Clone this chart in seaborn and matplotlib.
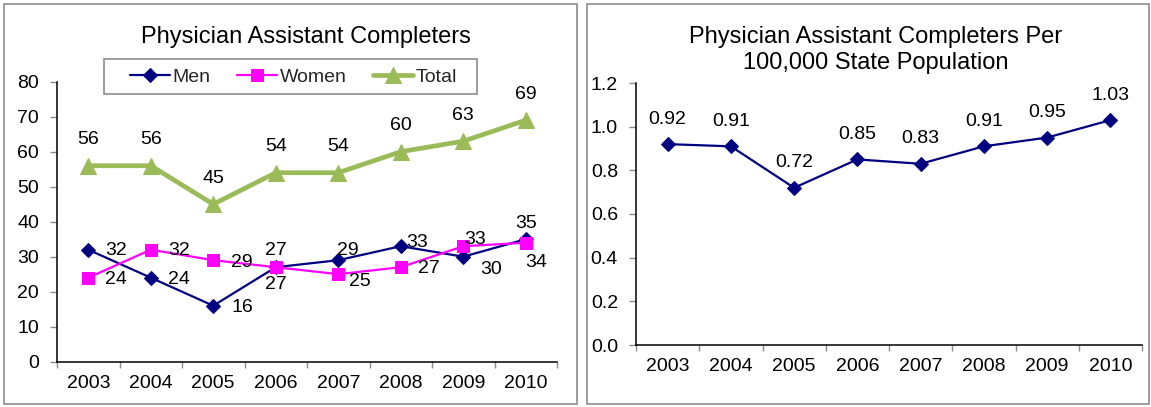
import numpy as np
import pandas as pd
import matplotlib
matplotlib.use("Agg")
import matplotlib.pyplot as plt
from matplotlib.patches import Rectangle
import seaborn as sns

# ---------------- data ----------------
years = ["2003", "2004", "2005", "2006", "2007", "2008", "2009", "2010"]
men = [32, 24, 16, 27, 29, 33, 30, 35]
women = [24, 32, 29, 27, 25, 27, 33, 34]
total = [56, 56, 45, 54, 54, 60, 63, 69]
per_100k = [0.92, 0.91, 0.72, 0.85, 0.83, 0.91, 0.95, 1.03]

left_title = "Physician Assistant Completers"
right_title = "Physician Assistant Completers Per\n100,000 State Population"

# label offsets in pixels (dx right, dy down) relative to the point
men_off = [(28, 1), (28, 2), (29, 2), (0, 17), (10, -10), (16, -4), (28, 13), (0, -16)]
women_off = [(28, 2), (28, 1), (29, 2), (0, -17), (22, 7), (28, 1), (12, -7), (10, 20)]
total_off = [(0, -26)] * 8
rate_off = [(0, -25)] * 8

sns.set_style("ticks")
plt.rcParams["font.family"] = ["Liberation Sans", "DejaVu Sans"]

W, H = 1151, 407
fig = plt.figure(figsize=(W / 100, H / 100), dpi=100)
fig.patch.set_facecolor("white")


def fx(px):
    return px / W


def fy(py):
    return 1 - py / H


# panel borders
for (x0, y0, x1, y1) in [(4, 4, 577, 404), (587, 4, 1149, 404)]:
    fig.patches.append(Rectangle((fx(x0), fy(y1)), fx(x1) - fx(x0), fy(y0) - fy(y1),
                                 transform=fig.transFigure, fill=False,
                                 edgecolor="#8c8c8c", linewidth=1.2))

axL = fig.add_axes([fx(57), fy(361.7), fx(557) - fx(57), fy(81.7) - fy(361.7)])
axR = fig.add_axes([fx(636), fy(345), fx(1142) - fx(636), fy(83) - fy(345)])

NAVY = "#000080"
MAG = "#FF00FF"
GREEN = "#9BBB59"

df = pd.DataFrame({"year": years, "Men": men, "Women": women, "Total": total,
                   "rate": per_100k})

sns.lineplot(data=df, x="year", y="Men", ax=axL, color=NAVY, linewidth=1.6,
             marker="D", markersize=7, markeredgecolor=NAVY, markerfacecolor=NAVY,
             label="Men", sort=False)
sns.lineplot(data=df, x="year", y="Women", ax=axL, color=MAG, linewidth=1.6,
             marker="s", markersize=8, markeredgecolor=MAG, markerfacecolor=MAG,
             label="Women", sort=False)
sns.lineplot(data=df, x="year", y="Total", ax=axL, color=GREEN, linewidth=3.4,
             marker="^", markersize=12, markeredgecolor=GREEN, markerfacecolor=GREEN,
             label="Total", sort=False)

sns.lineplot(data=df, x="year", y="rate", ax=axR, color=NAVY, linewidth=1.6,
             marker="D", markersize=7, markeredgecolor=NAVY, markerfacecolor=NAVY,
             sort=False, legend=False)

FS = 14


def annotate(ax, vals, offs, fmt):
    for i, (v, (dx, dy)) in enumerate(zip(vals, offs)):
        ax.annotate(fmt.format(v), xy=(i, v), xytext=(dx, -dy),
                    textcoords="offset pixels", ha="center", va="center",
                    fontsize=FS, color="black")


annotate(axL, men, men_off, "{:d}")
annotate(axL, women, women_off, "{:d}")
annotate(axL, total, total_off, "{:d}")
annotate(axR, per_100k, rate_off, "{:.2f}")

for ax, ylim, yt, fmt in [(axL, (0, 80), np.arange(0, 81, 10), "{:.0f}"),
                          (axR, (0, 1.2), np.arange(0, 1.21, 0.2), "{:.1f}")]:
    ax.set_xlim(-0.5, len(years) - 0.5)
    ax.set_ylim(*ylim)
    ax.set_yticks(yt)
    ax.set_yticklabels([fmt.format(t) for t in yt])
    ax.set_xticks(range(len(years)))
    ax.set_xticklabels(years)
    ax.set_xticks(np.arange(-0.5, len(years), 1.0), minor=True)
    ax.tick_params(axis="x", which="major", length=0, pad=9.5, labelsize=FS,
                   labelcolor="black")
    ax.tick_params(axis="x", which="minor", length=4, width=1, color="#8c8c8c",
                   direction="out")
    ax.tick_params(axis="y", which="major", length=5, width=1, color="#8c8c8c",
                   direction="out", pad=8, labelsize=FS, labelcolor="black")
    ax.set_xlabel("")
    ax.set_ylabel("")
    for s in ["top", "right"]:
        ax.spines[s].set_visible(False)
    for s in ["left", "bottom"]:
        ax.spines[s].set_color("black")
        ax.spines[s].set_linewidth(1.1)
    ax.set_facecolor("white")
    for ln in ax.lines:
        ln.set_clip_on(False)

# legend
leg = axL.legend(loc="center", bbox_to_anchor=(fx(293.5), fy(76.7)),
                 bbox_transform=fig.transFigure, ncol=3, frameon=False,
                 fontsize=FS, handlelength=2.06, handletextpad=0.15,
                 columnspacing=1.35, numpoints=1, borderpad=0.2)
fig.patches.append(Rectangle((fx(104), fy(94)), fx(477) - fx(104), fy(59) - fy(94),
                             transform=fig.transFigure, fill=False,
                             edgecolor="#8c8c8c", linewidth=1.2))

# titles
fig.text(fx(306), fy(37), left_title, ha="center", va="center", fontsize=17,
         color="black")
fig.text(fx(876), fy(37), "Physician Assistant Completers Per", ha="center",
         va="center", fontsize=17, color="black")
fig.text(fx(876), fy(63), "100,000 State Population", ha="center",
         va="center", fontsize=17, color="black")

fig.savefig("out.png", dpi=100, facecolor="white")
